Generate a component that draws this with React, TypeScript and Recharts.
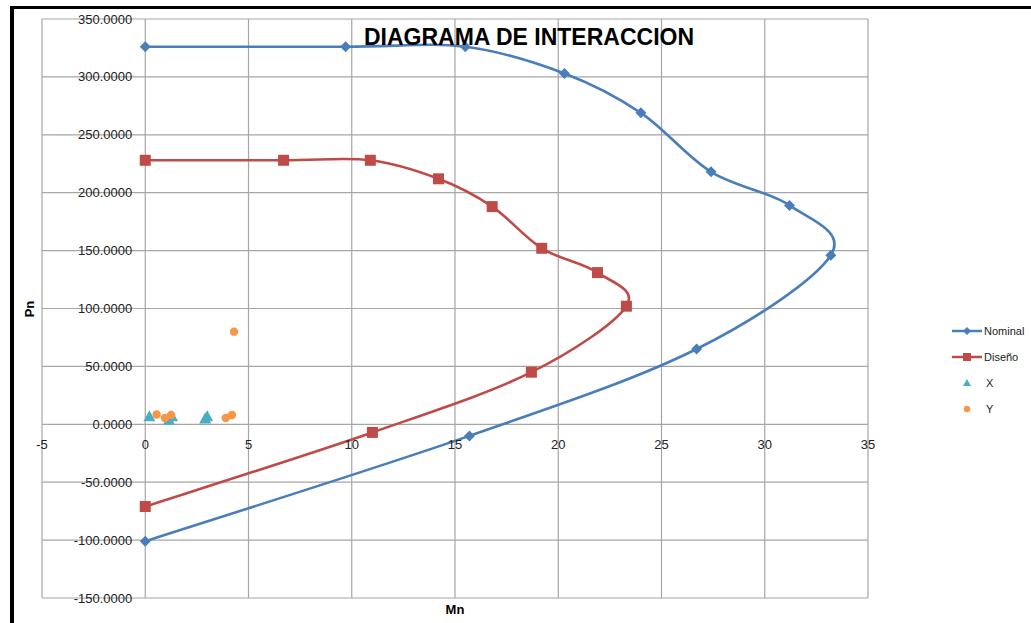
import React from "react";
import { CartesianGrid, ComposedChart, Line, Scatter, XAxis, YAxis } from "recharts";

// curve values (Mn, Pn)
const nominalMn = [0, 9.7, 15.5, 20.3, 24.0, 27.4, 31.2, 33.2, 26.7, 15.7, 0];
const nominalPn = [326, 326, 326, 303, 269, 218, 189, 146, 65, -10, -101];
const disenoMn = [0, 6.7, 10.9, 14.2, 16.8, 19.2, 21.9, 23.3, 18.7, 11.0, 0];
const disenoPn = [228, 228, 228, 212, 188, 152, 131, 102, 45, -7, -71];
const xMn = [0.2, 1.15, 1.3, 2.9, 3.0];
const xPn = [7, 4, 7, 5, 7];
const yMn = [0.55, 0.95, 1.25, 3.9, 4.2, 4.3];
const yPn = [8.5, 5.5, 8, 5.5, 8, 80];

const xTicks = [-5, 0, 5, 10, 15, 20, 25, 30, 35];
const yTicks = [-150, -100, -50, 0, 50, 100, 150, 200, 250, 300, 350];

const zip = (xs: number[], ys: number[]) => xs.map((x, i) => ({ x, y: ys[i] }));
const nominal = zip(nominalMn, nominalPn);
const diseno = zip(disenoMn, disenoPn);
const serieX = zip(xMn, xPn);
const serieY = zip(yMn, yPn);

const BLUE = "#4a7ebb";
const RED = "#be4b48";
const TEAL = "#4bacc6";
const ORANGE = "#f79646";
const GRID = "#a6a6a6";
const FONT = "'Liberation Sans', Arial, sans-serif";

const W = 1031;
const H = 623;
const YW = 42; // y axis strip
const XH = 25; // x axis strip
const M = { top: 19, left: 0, right: 163, bottom: 0 };
const plotW = W - M.left - M.right - YW;
const plotH = H - M.top - M.bottom - XH;
const plotLeft = M.left + YW;
// where the axes cross (0,0), used to put tick labels next to them like Excel does
const zeroX = plotLeft + ((0 - xTicks[0]) / (xTicks[xTicks.length - 1] - xTicks[0])) * plotW;
const zeroY = M.top + ((yTicks[yTicks.length - 1] - 0) / (yTicks[yTicks.length - 1] - yTicks[0])) * plotH;

// Excel style smoothed line (catmull-rom through the points)
const excelSmooth = (ctx: any) => {
  let pts: number[][] = [];
  return {
    areaStart() {},
    areaEnd() {},
    lineStart() {
      pts = [];
    },
    point(x: number, y: number) {
      pts.push([+x, +y]);
    },
    lineEnd() {
      if (!pts.length) return;
      ctx.moveTo(pts[0][0], pts[0][1]);
      for (let i = 0; i < pts.length - 1; i++) {
        const p0 = pts[Math.max(i - 1, 0)];
        const p1 = pts[i];
        const p2 = pts[i + 1];
        const p3 = pts[Math.min(i + 2, pts.length - 1)];
        ctx.bezierCurveTo(
          p1[0] + (p2[0] - p0[0]) / 6,
          p1[1] + (p2[1] - p0[1]) / 6,
          p2[0] - (p3[0] - p1[0]) / 6,
          p2[1] - (p3[1] - p1[1]) / 6,
          p2[0],
          p2[1]
        );
      }
    },
  };
};

const Diamond = (p: any) => {
  const { cx, cy, index } = p;
  if (cx == null || cy == null) return <g key={index} />;
  return <path key={index} d={`M${cx},${cy - 5.5}L${cx + 5.5},${cy}L${cx},${cy + 5.5}L${cx - 5.5},${cy}Z`} fill={BLUE} />;
};

const Square = (p: any) => {
  const { cx, cy, index } = p;
  if (cx == null || cy == null) return <g key={index} />;
  return <rect key={index} x={cx - 5.5} y={cy - 5.5} width={11} height={11} fill={RED} />;
};

const Triangle = (p: any) => (
  <path d={`M${p.cx},${p.cy - 6}L${p.cx + 6},${p.cy + 5}L${p.cx - 6},${p.cy + 5}Z`} fill={TEAL} />
);

const Circle = (p: any) => <circle cx={p.cx} cy={p.cy} r={4.2} fill={ORANGE} />;

const YTick = (p: any) => (
  <text x={zeroX - 13} y={p.y} textAnchor="end" dominantBaseline="central" fontSize={13} fontFamily={FONT} fill="#222">
    {Number(p.payload.value).toFixed(4)}
  </text>
);

const XTick = (p: any) => (
  <text x={p.x} y={zeroY + 20} textAnchor="middle" dominantBaseline="central" fontSize={13} fontFamily={FONT} fill="#222">
    {p.payload.value}
  </text>
);

const legendItems = [
  { name: "Nominal", kind: "line", color: BLUE, marker: "diamond" },
  { name: "Diseño", kind: "line", color: RED, marker: "square" },
  { name: "X", kind: "point", color: TEAL, marker: "triangle" },
  { name: "Y", kind: "point", color: ORANGE, marker: "circle" },
];

function LegendBox() {
  return (
    <svg width={90} height={110} style={{ position: "absolute", left: 945, top: 318 }}>
      {legendItems.map((it, i) => {
        const cy = 13 + i * 26;
        const cx = 22;
        return (
          <g key={it.name}>
            {it.kind === "line" && <line x1={7} x2={37} y1={cy} y2={cy} stroke={it.color} strokeWidth={2.5} />}
            {it.marker === "diamond" && <path d={`M${cx},${cy - 4}L${cx + 4},${cy}L${cx},${cy + 4}L${cx - 4},${cy}Z`} fill={it.color} />}
            {it.marker === "square" && <rect x={cx - 4} y={cy - 4} width={8} height={8} fill={it.color} />}
            {it.marker === "triangle" && <path d={`M${cx},${cy - 4}L${cx + 4},${cy + 3}L${cx - 4},${cy + 3}Z`} fill={it.color} />}
            {it.marker === "circle" && <circle cx={cx} cy={cy} r={3.2} fill={it.color} />}
            <text x={it.kind === "line" ? 39 : 41} y={cy} dominantBaseline="central" fontSize={11} fontFamily={FONT} fill="#222">
              {it.name}
            </text>
          </g>
        );
      })}
    </svg>
  );
}

export default function App() {
  return (
    <div style={{ position: "absolute", left: 0, top: 0, width: W, height: H, background: "#fff", overflow: "hidden" }}>
      <div
        style={{
          position: "absolute",
          left: 10,
          top: 6,
          width: W,
          height: H,
          borderLeft: "4px solid #000",
          borderTop: "3px solid #000",
        }}
      />
      <ComposedChart width={W} height={H} margin={M} style={{ position: "absolute", left: 0, top: 0 }}>
        <CartesianGrid stroke={GRID} strokeWidth={1.2} horizontalValues={yTicks} verticalValues={xTicks} />
        <XAxis
          type="number"
          dataKey="x"
          domain={[-5, 35]}
          ticks={xTicks}
          interval={0}
          height={XH}
          axisLine={false}
          tickLine={false}
          tick={XTick}
        />
        <YAxis
          type="number"
          dataKey="y"
          domain={[-150, 350]}
          ticks={yTicks}
          interval={0}
          width={YW}
          axisLine={false}
          tickLine={false}
          tick={YTick}
        />
        <Line
          data={nominal}
          dataKey="y"
          type={excelSmooth as any}
          stroke={BLUE}
          strokeWidth={2.6}
          dot={Diamond}
          activeDot={false}
          isAnimationActive={false}
        />
        <Line
          data={diseno}
          dataKey="y"
          type={excelSmooth as any}
          stroke={RED}
          strokeWidth={2.6}
          dot={Square}
          activeDot={false}
          isAnimationActive={false}
        />
        <Scatter data={serieX} dataKey="y" shape={Triangle} isAnimationActive={false} />
        <Scatter data={serieY} dataKey="y" shape={Circle} isAnimationActive={false} />
      </ComposedChart>
      <div
        style={{
          position: "absolute",
          left: 279,
          top: 25,
          width: 500,
          textAlign: "center",
          fontFamily: FONT,
          fontWeight: "bold",
          fontSize: 23,
          lineHeight: "25px",
          color: "#000",
        }}
      >
        DIAGRAMA DE INTERACCION
      </div>
      <div
        style={{
          position: "absolute",
          left: 15,
          top: 301,
          width: 30,
          textAlign: "center",
          transform: "rotate(-90deg)",
          fontFamily: FONT,
          fontWeight: "bold",
          fontSize: 13,
          lineHeight: "16px",
        }}
      >
        Pn
      </div>
      <div
        style={{
          position: "absolute",
          left: 435,
          top: 602,
          width: 40,
          textAlign: "center",
          fontFamily: FONT,
          fontWeight: "bold",
          fontSize: 13,
          lineHeight: "16px",
        }}
      >
        Mn
      </div>
      <LegendBox />
    </div>
  );
}
